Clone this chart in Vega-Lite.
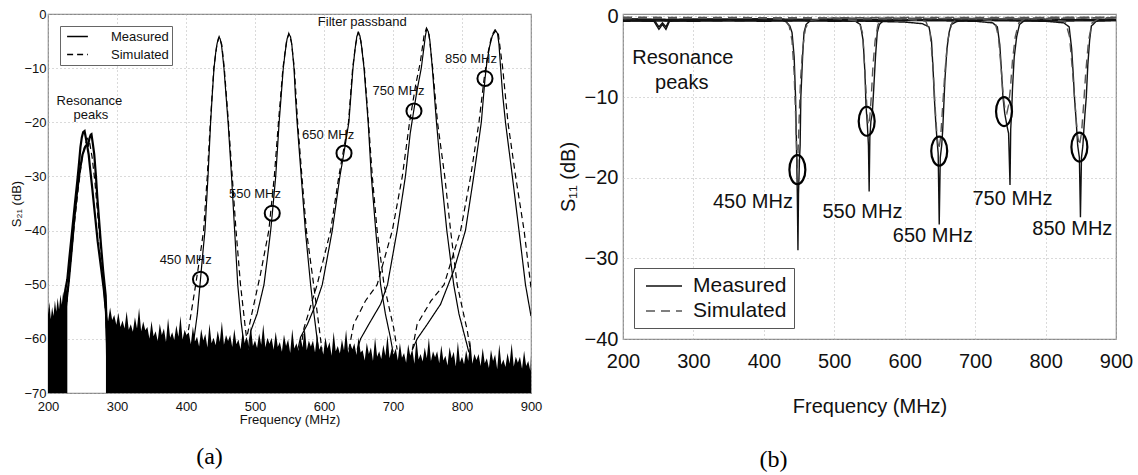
{
"$schema": "https://vega.github.io/schema/vega-lite/v6.json",
"background": "white",
"padding": {"left": 10, "top": 5, "right": 0, "bottom": 0},
"spacing": 14,
"config": {
  "font": "Liberation Sans",
  "view": {"stroke": "#8a8a8a", "strokeWidth": 1.2},
  "axis": {"domain": false, "ticks": false, "grid": true, "gridColor": "#b5b5b5", "gridDash": [1, 3], "labelColor": "#111", "titleColor": "#111", "labelFlush": false, "labelOverlap": false, "titleFontWeight": "normal"},
  "title": {"font": "Liberation Serif", "fontWeight": "normal", "fontSize": 24, "color": "#000"}
},
"datasets": {
  "left_noise": [
    {"seg":"a","f":200,"db":-55.5},{"seg":"a","f":202,"db":-53.2},{"seg":"a","f":204,"db":-56.4},{"seg":"a","f":206,"db":-54.1},{"seg":"a","f":208,"db":-55.8},{"seg":"a","f":210,"db":-52.9},{"seg":"a","f":212,"db":-55.0},{"seg":"a","f":214,"db":-52.4},{"seg":"a","f":216,"db":-54.6},{"seg":"a","f":218,"db":-51.8},{"seg":"a","f":220,"db":-53.7},{"seg":"a","f":222,"db":-51.2},{"seg":"a","f":224,"db":-52.8},{"seg":"a","f":226,"db":-50.3},{"seg":"a","f":228,"db":-51.5},
    {"seg":"b","f":284,"db":-55.0},{"seg":"b","f":287,"db":-56.8},{"seg":"b","f":290,"db":-54.2},{"seg":"b","f":293,"db":-56.5},{"seg":"b","f":296,"db":-55.6},{"seg":"b","f":299,"db":-57.4},{"seg":"b","f":302,"db":-55.2},{"seg":"b","f":305,"db":-57.8},{"seg":"b","f":308,"db":-56.6},{"seg":"b","f":311,"db":-58.1},{"seg":"b","f":314,"db":-54.9},{"seg":"b","f":317,"db":-58.3},{"seg":"b","f":320,"db":-57.3},{"seg":"b","f":323,"db":-58.7},{"seg":"b","f":326,"db":-56.0},{"seg":"b","f":329,"db":-58.1},{"seg":"b","f":332,"db":-54.3},{"seg":"b","f":335,"db":-58.6},{"seg":"b","f":338,"db":-56.8},{"seg":"b","f":341,"db":-58.4},{"seg":"b","f":344,"db":-57.8},{"seg":"b","f":347,"db":-60.0},{"seg":"b","f":350,"db":-56.7},{"seg":"b","f":353,"db":-59.5},{"seg":"b","f":356,"db":-58.6},{"seg":"b","f":359,"db":-60.4},{"seg":"b","f":362,"db":-57.2},{"seg":"b","f":365,"db":-59.3},{"seg":"b","f":368,"db":-58.1},{"seg":"b","f":371,"db":-60.6},{"seg":"b","f":374,"db":-56.2},{"seg":"b","f":377,"db":-59.8},{"seg":"b","f":380,"db":-58.8},{"seg":"b","f":383,"db":-60.2},{"seg":"b","f":386,"db":-57.5},{"seg":"b","f":389,"db":-59.6},{"seg":"b","f":392,"db":-55.8},{"seg":"b","f":395,"db":-60.1},{"seg":"b","f":398,"db":-58.3},{"seg":"b","f":401,"db":-59.4},{"seg":"b","f":404,"db":-58.8},{"seg":"b","f":407,"db":-61.0},{"seg":"b","f":410,"db":-57.7},{"seg":"b","f":413,"db":-60.5},{"seg":"b","f":416,"db":-59.6},{"seg":"b","f":419,"db":-61.4},{"seg":"b","f":422,"db":-58.2},{"seg":"b","f":425,"db":-60.3},{"seg":"b","f":428,"db":-59.1},{"seg":"b","f":431,"db":-61.6},{"seg":"b","f":434,"db":-57.2},{"seg":"b","f":437,"db":-60.8},{"seg":"b","f":440,"db":-59.8},{"seg":"b","f":443,"db":-61.2},{"seg":"b","f":446,"db":-58.5},{"seg":"b","f":449,"db":-60.6},{"seg":"b","f":452,"db":-56.8},{"seg":"b","f":455,"db":-61.1},{"seg":"b","f":458,"db":-59.3},{"seg":"b","f":461,"db":-60.4},{"seg":"b","f":464,"db":-59.3},{"seg":"b","f":467,"db":-61.5},{"seg":"b","f":470,"db":-58.2},{"seg":"b","f":473,"db":-61.0},{"seg":"b","f":476,"db":-60.1},{"seg":"b","f":479,"db":-61.9},{"seg":"b","f":482,"db":-58.7},{"seg":"b","f":485,"db":-60.8},{"seg":"b","f":488,"db":-59.6},{"seg":"b","f":491,"db":-62.1},{"seg":"b","f":494,"db":-57.7},{"seg":"b","f":497,"db":-61.3},{"seg":"b","f":500,"db":-60.3},{"seg":"b","f":503,"db":-61.7},{"seg":"b","f":506,"db":-59.0},{"seg":"b","f":509,"db":-61.1},{"seg":"b","f":512,"db":-57.3},{"seg":"b","f":515,"db":-61.6},{"seg":"b","f":518,"db":-59.8},{"seg":"b","f":521,"db":-60.9},{"seg":"b","f":524,"db":-59.8},{"seg":"b","f":527,"db":-62.0},{"seg":"b","f":530,"db":-58.7},{"seg":"b","f":533,"db":-61.5},{"seg":"b","f":536,"db":-60.6},{"seg":"b","f":539,"db":-62.4},{"seg":"b","f":542,"db":-59.2},{"seg":"b","f":545,"db":-61.3},{"seg":"b","f":548,"db":-60.1},{"seg":"b","f":551,"db":-62.6},{"seg":"b","f":554,"db":-58.2},{"seg":"b","f":557,"db":-61.8},{"seg":"b","f":560,"db":-60.8},{"seg":"b","f":563,"db":-62.2},{"seg":"b","f":566,"db":-59.6},{"seg":"b","f":569,"db":-61.6},{"seg":"b","f":572,"db":-57.8},{"seg":"b","f":575,"db":-62.1},{"seg":"b","f":578,"db":-60.3},{"seg":"b","f":581,"db":-61.4},{"seg":"b","f":584,"db":-60.3},{"seg":"b","f":587,"db":-62.5},{"seg":"b","f":590,"db":-59.2},{"seg":"b","f":593,"db":-62.0},{"seg":"b","f":596,"db":-61.1},{"seg":"b","f":599,"db":-62.9},{"seg":"b","f":602,"db":-59.7},{"seg":"b","f":605,"db":-61.8},{"seg":"b","f":608,"db":-60.6},{"seg":"b","f":611,"db":-63.1},{"seg":"b","f":614,"db":-58.7},{"seg":"b","f":617,"db":-62.3},{"seg":"b","f":620,"db":-61.3},{"seg":"b","f":623,"db":-62.7},{"seg":"b","f":626,"db":-60.1},{"seg":"b","f":629,"db":-62.1},{"seg":"b","f":632,"db":-58.3},{"seg":"b","f":635,"db":-62.6},{"seg":"b","f":638,"db":-60.8},{"seg":"b","f":641,"db":-61.9},{"seg":"b","f":644,"db":-60.8},{"seg":"b","f":647,"db":-63.0},{"seg":"b","f":650,"db":-59.7},{"seg":"b","f":653,"db":-62.5},{"seg":"b","f":656,"db":-62.1},{"seg":"b","f":659,"db":-64.0},{"seg":"b","f":662,"db":-60.7},{"seg":"b","f":665,"db":-62.8},{"seg":"b","f":668,"db":-61.6},{"seg":"b","f":671,"db":-64.1},{"seg":"b","f":674,"db":-59.7},{"seg":"b","f":677,"db":-63.3},{"seg":"b","f":680,"db":-62.3},{"seg":"b","f":683,"db":-63.7},{"seg":"b","f":686,"db":-61.1},{"seg":"b","f":689,"db":-63.1},{"seg":"b","f":692,"db":-59.3},{"seg":"b","f":695,"db":-63.6},{"seg":"b","f":698,"db":-61.8},{"seg":"b","f":701,"db":-62.9},{"seg":"b","f":704,"db":-61.8},{"seg":"b","f":707,"db":-64.0},{"seg":"b","f":710,"db":-60.7},{"seg":"b","f":713,"db":-63.5},{"seg":"b","f":716,"db":-62.6},{"seg":"b","f":719,"db":-64.4},{"seg":"b","f":722,"db":-61.0},{"seg":"b","f":725,"db":-63.1},{"seg":"b","f":728,"db":-61.9},{"seg":"b","f":731,"db":-64.6},{"seg":"b","f":734,"db":-60.0},{"seg":"b","f":737,"db":-63.8},{"seg":"b","f":740,"db":-62.8},{"seg":"b","f":743,"db":-64.2},{"seg":"b","f":746,"db":-61.6},{"seg":"b","f":749,"db":-63.6},{"seg":"b","f":752,"db":-59.8},{"seg":"b","f":755,"db":-64.1},{"seg":"b","f":758,"db":-62.3},{"seg":"b","f":761,"db":-63.4},{"seg":"b","f":764,"db":-62.3},{"seg":"b","f":767,"db":-64.5},{"seg":"b","f":770,"db":-61.2},{"seg":"b","f":773,"db":-64.0},{"seg":"b","f":776,"db":-63.1},{"seg":"b","f":779,"db":-64.9},{"seg":"b","f":782,"db":-61.5},{"seg":"b","f":785,"db":-63.6},{"seg":"b","f":788,"db":-62.4},{"seg":"b","f":791,"db":-65.1},{"seg":"b","f":794,"db":-60.5},{"seg":"b","f":797,"db":-64.3},{"seg":"b","f":800,"db":-63.3},{"seg":"b","f":803,"db":-64.7},{"seg":"b","f":806,"db":-62.1},{"seg":"b","f":809,"db":-64.1},{"seg":"b","f":812,"db":-60.3},{"seg":"b","f":815,"db":-64.6},{"seg":"b","f":818,"db":-62.8},{"seg":"b","f":821,"db":-63.9},{"seg":"b","f":824,"db":-62.8},{"seg":"b","f":827,"db":-65.0},{"seg":"b","f":830,"db":-61.7},{"seg":"b","f":833,"db":-64.5},{"seg":"b","f":836,"db":-63.6},{"seg":"b","f":839,"db":-65.4},{"seg":"b","f":842,"db":-62.0},{"seg":"b","f":845,"db":-64.1},{"seg":"b","f":848,"db":-62.9},{"seg":"b","f":851,"db":-65.6},{"seg":"b","f":854,"db":-61.0},{"seg":"b","f":857,"db":-64.8},{"seg":"b","f":860,"db":-63.8},{"seg":"b","f":863,"db":-65.2},{"seg":"b","f":866,"db":-62.6},{"seg":"b","f":869,"db":-64.6},{"seg":"b","f":872,"db":-60.8},{"seg":"b","f":875,"db":-65.1},{"seg":"b","f":878,"db":-63.3},{"seg":"b","f":881,"db":-64.4},{"seg":"b","f":884,"db":-63.3},{"seg":"b","f":887,"db":-65.5},{"seg":"b","f":890,"db":-62.2},{"seg":"b","f":893,"db":-65.0},{"seg":"b","f":896,"db":-64.1},{"seg":"b","f":899,"db":-65.9},{"seg":"b","f":900,"db":-63.0}
  ],
  "left_lines": [
    {"s":"M450","t":"Measured","f":405,"db":-62},{"s":"M450","t":"Measured","f":411.6,"db":-60},{"s":"M450","t":"Measured","f":416.4,"db":-55.4},{"s":"M450","t":"Measured","f":421,"db":-49},{"s":"M450","t":"Measured","f":424.5,"db":-44},{"s":"M450","t":"Measured","f":427.5,"db":-40},{"s":"M450","t":"Measured","f":431.9,"db":-30},{"s":"M450","t":"Measured","f":435.7,"db":-20},{"s":"M450","t":"Measured","f":438,"db":-15},{"s":"M450","t":"Measured","f":440.6,"db":-10},{"s":"M450","t":"Measured","f":443,"db":-7.2},{"s":"M450","t":"Measured","f":445,"db":-5.5},{"s":"M450","t":"Measured","f":447,"db":-4.5},{"s":"M450","t":"Measured","f":448,"db":-4.3},{"s":"M450","t":"Measured","f":449.5,"db":-4.6},{"s":"M450","t":"Measured","f":451.5,"db":-5.8},{"s":"M450","t":"Measured","f":453,"db":-7.5},{"s":"M450","t":"Measured","f":455,"db":-10},{"s":"M450","t":"Measured","f":458,"db":-15},{"s":"M450","t":"Measured","f":461,"db":-20},{"s":"M450","t":"Measured","f":466,"db":-30},{"s":"M450","t":"Measured","f":470.5,"db":-40},{"s":"M450","t":"Measured","f":475,"db":-50},{"s":"M450","t":"Measured","f":480,"db":-57},{"s":"M450","t":"Measured","f":484,"db":-61},{"s":"M450","t":"Measured","f":486,"db":-63},
    {"s":"S450","t":"Simulated","f":398,"db":-62},{"s":"S450","t":"Simulated","f":404,"db":-58},{"s":"S450","t":"Simulated","f":414,"db":-50},{"s":"S450","t":"Simulated","f":420,"db":-45},{"s":"S450","t":"Simulated","f":425.5,"db":-40},{"s":"S450","t":"Simulated","f":430.8,"db":-30},{"s":"S450","t":"Simulated","f":435.3,"db":-20},{"s":"S450","t":"Simulated","f":440.3,"db":-10},{"s":"S450","t":"Simulated","f":444.8,"db":-5.6},{"s":"S450","t":"Simulated","f":448,"db":-4.2},{"s":"S450","t":"Simulated","f":451.8,"db":-5.6},{"s":"S450","t":"Simulated","f":455.5,"db":-10},{"s":"S450","t":"Simulated","f":461.5,"db":-20},{"s":"S450","t":"Simulated","f":467,"db":-30},{"s":"S450","t":"Simulated","f":472.5,"db":-40},{"s":"S450","t":"Simulated","f":479,"db":-50},{"s":"S450","t":"Simulated","f":486,"db":-58},{"s":"S450","t":"Simulated","f":490,"db":-62},
    {"s":"M550","t":"Measured","f":490,"db":-62},{"s":"M550","t":"Measured","f":494,"db":-58.5},{"s":"M550","t":"Measured","f":503,"db":-55.4},{"s":"M550","t":"Measured","f":513,"db":-50},{"s":"M550","t":"Measured","f":518,"db":-45},{"s":"M550","t":"Measured","f":522.7,"db":-40},{"s":"M550","t":"Measured","f":525,"db":-37},{"s":"M550","t":"Measured","f":530,"db":-30},{"s":"M550","t":"Measured","f":535,"db":-20},{"s":"M550","t":"Measured","f":538,"db":-15},{"s":"M550","t":"Measured","f":541,"db":-10},{"s":"M550","t":"Measured","f":544,"db":-6.8},{"s":"M550","t":"Measured","f":546.5,"db":-4.6},{"s":"M550","t":"Measured","f":549,"db":-3.7},{"s":"M550","t":"Measured","f":551.5,"db":-4.2},{"s":"M550","t":"Measured","f":553.5,"db":-5.8},{"s":"M550","t":"Measured","f":556.5,"db":-10},{"s":"M550","t":"Measured","f":558.5,"db":-15},{"s":"M550","t":"Measured","f":561,"db":-20},{"s":"M550","t":"Measured","f":567,"db":-30},{"s":"M550","t":"Measured","f":573,"db":-40},{"s":"M550","t":"Measured","f":580.6,"db":-50},{"s":"M550","t":"Measured","f":585.5,"db":-55.4},{"s":"M550","t":"Measured","f":590,"db":-60},{"s":"M550","t":"Measured","f":593,"db":-63},
    {"s":"S550","t":"Simulated","f":486,"db":-61},{"s":"S550","t":"Simulated","f":496,"db":-55},{"s":"S550","t":"Simulated","f":508,"db":-48},{"s":"S550","t":"Simulated","f":520,"db":-40},{"s":"S550","t":"Simulated","f":528,"db":-30},{"s":"S550","t":"Simulated","f":534,"db":-20},{"s":"S550","t":"Simulated","f":540.5,"db":-10},{"s":"S550","t":"Simulated","f":545.5,"db":-5.2},{"s":"S550","t":"Simulated","f":549,"db":-3.6},{"s":"S550","t":"Simulated","f":552.8,"db":-5.2},{"s":"S550","t":"Simulated","f":557,"db":-10},{"s":"S550","t":"Simulated","f":561.8,"db":-20},{"s":"S550","t":"Simulated","f":568,"db":-30},{"s":"S550","t":"Simulated","f":574.5,"db":-40},{"s":"S550","t":"Simulated","f":585,"db":-50},{"s":"S550","t":"Simulated","f":593,"db":-58},{"s":"S550","t":"Simulated","f":597,"db":-62},
    {"s":"M650","t":"Measured","f":562,"db":-62},{"s":"M650","t":"Measured","f":566,"db":-59.7},{"s":"M650","t":"Measured","f":576,"db":-57.3},{"s":"M650","t":"Measured","f":588,"db":-53.6},{"s":"M650","t":"Measured","f":597.5,"db":-50},{"s":"M650","t":"Measured","f":612,"db":-40},{"s":"M650","t":"Measured","f":623,"db":-30},{"s":"M650","t":"Measured","f":629,"db":-25.6},{"s":"M650","t":"Measured","f":636,"db":-20},{"s":"M650","t":"Measured","f":639,"db":-15},{"s":"M650","t":"Measured","f":642,"db":-10},{"s":"M650","t":"Measured","f":645,"db":-6.5},{"s":"M650","t":"Measured","f":647.5,"db":-4.2},{"s":"M650","t":"Measured","f":649.5,"db":-3.4},{"s":"M650","t":"Measured","f":652,"db":-4},{"s":"M650","t":"Measured","f":654.5,"db":-6},{"s":"M650","t":"Measured","f":658,"db":-10},{"s":"M650","t":"Measured","f":661,"db":-15},{"s":"M650","t":"Measured","f":664,"db":-20},{"s":"M650","t":"Measured","f":668.6,"db":-30},{"s":"M650","t":"Measured","f":675,"db":-40},{"s":"M650","t":"Measured","f":682,"db":-50},{"s":"M650","t":"Measured","f":689,"db":-55.4},{"s":"M650","t":"Measured","f":696.6,"db":-60},{"s":"M650","t":"Measured","f":700,"db":-62.5},
    {"s":"S650","t":"Simulated","f":566,"db":-62},{"s":"S650","t":"Simulated","f":571,"db":-58},{"s":"S650","t":"Simulated","f":590,"db":-50},{"s":"S650","t":"Simulated","f":609.6,"db":-40},{"s":"S650","t":"Simulated","f":621.5,"db":-30},{"s":"S650","t":"Simulated","f":635.5,"db":-20},{"s":"S650","t":"Simulated","f":641.5,"db":-10},{"s":"S650","t":"Simulated","f":646,"db":-5.5},{"s":"S650","t":"Simulated","f":650,"db":-3.3},{"s":"S650","t":"Simulated","f":653.5,"db":-5},{"s":"S650","t":"Simulated","f":658.5,"db":-10},{"s":"S650","t":"Simulated","f":664.5,"db":-20},{"s":"S650","t":"Simulated","f":670,"db":-30},{"s":"S650","t":"Simulated","f":677,"db":-40},{"s":"S650","t":"Simulated","f":687,"db":-50},{"s":"S650","t":"Simulated","f":701,"db":-58},{"s":"S650","t":"Simulated","f":706,"db":-62},
    {"s":"M750","t":"Measured","f":648,"db":-62},{"s":"M750","t":"Measured","f":653,"db":-60},{"s":"M750","t":"Measured","f":665,"db":-57.3},{"s":"M750","t":"Measured","f":682,"db":-53.6},{"s":"M750","t":"Measured","f":692,"db":-50},{"s":"M750","t":"Measured","f":706,"db":-40},{"s":"M750","t":"Measured","f":718,"db":-30},{"s":"M750","t":"Measured","f":725,"db":-22},{"s":"M750","t":"Measured","f":730,"db":-17.9},{"s":"M750","t":"Measured","f":735,"db":-14},{"s":"M750","t":"Measured","f":741,"db":-10},{"s":"M750","t":"Measured","f":744.5,"db":-6.5},{"s":"M750","t":"Measured","f":747,"db":-4},{"s":"M750","t":"Measured","f":748.8,"db":-2.8},{"s":"M750","t":"Measured","f":751,"db":-3.2},{"s":"M750","t":"Measured","f":753.5,"db":-5},{"s":"M750","t":"Measured","f":757,"db":-10},{"s":"M750","t":"Measured","f":760,"db":-15},{"s":"M750","t":"Measured","f":763,"db":-20},{"s":"M750","t":"Measured","f":770,"db":-30},{"s":"M750","t":"Measured","f":778,"db":-40},{"s":"M750","t":"Measured","f":788,"db":-50},{"s":"M750","t":"Measured","f":795.6,"db":-55.4},{"s":"M750","t":"Measured","f":805,"db":-60},{"s":"M750","t":"Measured","f":810,"db":-62.5},
    {"s":"S750","t":"Simulated","f":636,"db":-62},{"s":"S750","t":"Simulated","f":643,"db":-57.3},{"s":"S750","t":"Simulated","f":660,"db":-53},{"s":"S750","t":"Simulated","f":677,"db":-50},{"s":"S750","t":"Simulated","f":699,"db":-40},{"s":"S750","t":"Simulated","f":713.5,"db":-30},{"s":"S750","t":"Simulated","f":724,"db":-20},{"s":"S750","t":"Simulated","f":733,"db":-13},{"s":"S750","t":"Simulated","f":739.5,"db":-9},{"s":"S750","t":"Simulated","f":745,"db":-4},{"s":"S750","t":"Simulated","f":748.5,"db":-2.6},{"s":"S750","t":"Simulated","f":752,"db":-3.5},{"s":"S750","t":"Simulated","f":757.5,"db":-10},{"s":"S750","t":"Simulated","f":764.5,"db":-20},{"s":"S750","t":"Simulated","f":775,"db":-30},{"s":"S750","t":"Simulated","f":783.5,"db":-40},{"s":"S750","t":"Simulated","f":793,"db":-50},{"s":"S750","t":"Simulated","f":807.7,"db":-58.5},{"s":"S750","t":"Simulated","f":812,"db":-62},
    {"s":"M850","t":"Measured","f":728,"db":-62},{"s":"M850","t":"Measured","f":735,"db":-60},{"s":"M850","t":"Measured","f":749.7,"db":-57.3},{"s":"M850","t":"Measured","f":769,"db":-53.6},{"s":"M850","t":"Measured","f":788,"db":-47.4},{"s":"M850","t":"Measured","f":805,"db":-40},{"s":"M850","t":"Measured","f":817,"db":-30},{"s":"M850","t":"Measured","f":828,"db":-20},{"s":"M850","t":"Measured","f":833.3,"db":-12},{"s":"M850","t":"Measured","f":836,"db":-9},{"s":"M850","t":"Measured","f":840,"db":-6},{"s":"M850","t":"Measured","f":844,"db":-4},{"s":"M850","t":"Measured","f":848.8,"db":-3.1},{"s":"M850","t":"Measured","f":851.5,"db":-3.6},{"s":"M850","t":"Measured","f":853.5,"db":-5.5},{"s":"M850","t":"Measured","f":856,"db":-10},{"s":"M850","t":"Measured","f":859,"db":-15},{"s":"M850","t":"Measured","f":863,"db":-20},{"s":"M850","t":"Measured","f":873,"db":-30},{"s":"M850","t":"Measured","f":882.6,"db":-40},{"s":"M850","t":"Measured","f":892,"db":-50},{"s":"M850","t":"Measured","f":900,"db":-55.8},
    {"s":"S850","t":"Simulated","f":728,"db":-62},{"s":"S850","t":"Simulated","f":735,"db":-57.3},{"s":"S850","t":"Simulated","f":755,"db":-53},{"s":"S850","t":"Simulated","f":774,"db":-50},{"s":"S850","t":"Simulated","f":798,"db":-40},{"s":"S850","t":"Simulated","f":812.5,"db":-30},{"s":"S850","t":"Simulated","f":824.6,"db":-20},{"s":"S850","t":"Simulated","f":832,"db":-12},{"s":"S850","t":"Simulated","f":838,"db":-7},{"s":"S850","t":"Simulated","f":843,"db":-4},{"s":"S850","t":"Simulated","f":848,"db":-2.9},{"s":"S850","t":"Simulated","f":852.5,"db":-3.5},{"s":"S850","t":"Simulated","f":856,"db":-7},{"s":"S850","t":"Simulated","f":859,"db":-10},{"s":"S850","t":"Simulated","f":866.6,"db":-20},{"s":"S850","t":"Simulated","f":877.7,"db":-30},{"s":"S850","t":"Simulated","f":890,"db":-40},{"s":"S850","t":"Simulated","f":899.5,"db":-50},{"s":"S850","t":"Simulated","f":900,"db":-50.5}
  ],
  "left_res": [
    {"s":"R1","t":"M","f":223,"db":-54},{"s":"R1","t":"M","f":225,"db":-51},{"s":"R1","t":"M","f":228,"db":-49},{"s":"R1","t":"M","f":231,"db":-45},{"s":"R1","t":"M","f":235,"db":-40},{"s":"R1","t":"M","f":239,"db":-35},{"s":"R1","t":"M","f":242.5,"db":-30.8},{"s":"R1","t":"M","f":245,"db":-27.5},{"s":"R1","t":"M","f":247,"db":-24.6},{"s":"R1","t":"M","f":249,"db":-22.8},{"s":"R1","t":"M","f":251,"db":-21.8},{"s":"R1","t":"M","f":253,"db":-21.6},{"s":"R1","t":"M","f":255,"db":-23},{"s":"R1","t":"M","f":257,"db":-24.5},{"s":"R1","t":"M","f":259,"db":-26},{"s":"R1","t":"M","f":261,"db":-28.5},{"s":"R1","t":"M","f":264,"db":-32},{"s":"R1","t":"M","f":268,"db":-37},{"s":"R1","t":"M","f":272,"db":-42},{"s":"R1","t":"M","f":277,"db":-47},{"s":"R1","t":"M","f":281,"db":-51},{"s":"R1","t":"M","f":284,"db":-55},{"s":"R1","t":"M","f":286,"db":-62},{"s":"R1","t":"M","f":287.5,"db":-70},
    {"s":"R2","t":"M","f":226,"db":-54},{"s":"R2","t":"M","f":230,"db":-49.5},{"s":"R2","t":"M","f":234,"db":-44},{"s":"R2","t":"M","f":238,"db":-38},{"s":"R2","t":"M","f":242,"db":-33},{"s":"R2","t":"M","f":246,"db":-29},{"s":"R2","t":"M","f":250,"db":-26},{"s":"R2","t":"M","f":254,"db":-24.5},{"s":"R2","t":"M","f":256,"db":-24.2},{"s":"R2","t":"M","f":258,"db":-24.3},{"s":"R2","t":"M","f":260,"db":-23},{"s":"R2","t":"M","f":262,"db":-22.3},{"s":"R2","t":"M","f":263,"db":-22.2},{"s":"R2","t":"M","f":265,"db":-24},{"s":"R2","t":"M","f":267,"db":-25.9},{"s":"R2","t":"M","f":269.5,"db":-30},{"s":"R2","t":"M","f":271.5,"db":-33.9},{"s":"R2","t":"M","f":274,"db":-38},{"s":"R2","t":"M","f":277,"db":-43},{"s":"R2","t":"M","f":280,"db":-47.5},{"s":"R2","t":"M","f":283.6,"db":-52},{"s":"R2","t":"M","f":285,"db":-58},{"s":"R2","t":"M","f":286.5,"db":-70},
    {"s":"RS","t":"S","f":226,"db":-55},{"s":"RS","t":"S","f":232,"db":-47},{"s":"RS","t":"S","f":238,"db":-39},{"s":"RS","t":"S","f":244,"db":-32},{"s":"RS","t":"S","f":249,"db":-27},{"s":"RS","t":"S","f":253,"db":-24.5},{"s":"RS","t":"S","f":257,"db":-23},{"s":"RS","t":"S","f":260,"db":-23.5},{"s":"RS","t":"S","f":264,"db":-26.5},{"s":"RS","t":"S","f":268,"db":-31},{"s":"RS","t":"S","f":272,"db":-37},{"s":"RS","t":"S","f":276,"db":-43},{"s":"RS","t":"S","f":280,"db":-49},{"s":"RS","t":"S","f":284,"db":-56},{"s":"RS","t":"S","f":286,"db":-62}
  ],
  "left_text": [
    {"f":260,"db":-16,"label":"Resonance"},{"f":262,"db":-18.6,"label":"peaks"},{"f":399.5,"db":-45.4,"label":"450 MHz"},{"f":500,"db":-33.3,"label":"550 MHz"},{"f":606,"db":-22.3,"label":"650 MHz"},{"f":708,"db":-14.3,"label":"750 MHz"},{"f":813,"db":-8.3,"label":"850 MHz"},{"f":655.5,"db":-1.5,"label":"Filter passband"}
  ],
  "left_circles": [
    {"f":421,"db":-49},{"f":525,"db":-36.8},{"f":629,"db":-25.7},{"f":730.4,"db":-17.9},{"f":833.3,"db":-11.9}
  ],
  "right_lines": [
    {"s":"M450","t":"Measured","f":200,"db":-0.5},{"s":"M450","t":"Measured","f":244,"db":-0.6},{"s":"M450","t":"Measured","f":251,"db":-1.6},{"s":"M450","t":"Measured","f":256,"db":-1.0},{"s":"M450","t":"Measured","f":261,"db":-1.6},{"s":"M450","t":"Measured","f":266,"db":-0.6},{"s":"M450","t":"Measured","f":300,"db":-0.5},{"s":"M450","t":"Measured","f":350,"db":-0.4},{"s":"M450","t":"Measured","f":400,"db":-0.3},{"s":"M450","t":"Measured","f":425,"db":-0.4},{"s":"M450","t":"Measured","f":432,"db":-0.7},{"s":"M450","t":"Measured","f":437,"db":-1.2},{"s":"M450","t":"Measured","f":440,"db":-2},{"s":"M450","t":"Measured","f":443,"db":-5},{"s":"M450","t":"Measured","f":445,"db":-10},{"s":"M450","t":"Measured","f":446.5,"db":-17},{"s":"M450","t":"Measured","f":447.5,"db":-22},{"s":"M450","t":"Measured","f":448.4,"db":-29},{"s":"M450","t":"Measured","f":449.2,"db":-22},{"s":"M450","t":"Measured","f":450.5,"db":-18},{"s":"M450","t":"Measured","f":451.5,"db":-16},{"s":"M450","t":"Measured","f":452.5,"db":-10},{"s":"M450","t":"Measured","f":455,"db":-5},{"s":"M450","t":"Measured","f":457,"db":-2},{"s":"M450","t":"Measured","f":460,"db":-1},{"s":"M450","t":"Measured","f":466,"db":-0.5},{"s":"M450","t":"Measured","f":500,"db":-0.3},{"s":"M450","t":"Measured","f":600,"db":-0.4},{"s":"M450","t":"Measured","f":700,"db":-0.5},{"s":"M450","t":"Measured","f":800,"db":-0.4},{"s":"M450","t":"Measured","f":900,"db":-0.4},
    {"s":"M550","t":"Measured","f":200,"db":-0.3},{"s":"M550","t":"Measured","f":244,"db":-0.4},{"s":"M550","t":"Measured","f":251,"db":-1.3},{"s":"M550","t":"Measured","f":256,"db":-0.8},{"s":"M550","t":"Measured","f":261,"db":-1.3},{"s":"M550","t":"Measured","f":266,"db":-0.4},{"s":"M550","t":"Measured","f":300,"db":-0.3},{"s":"M550","t":"Measured","f":400,"db":-0.4},{"s":"M550","t":"Measured","f":500,"db":-0.5},{"s":"M550","t":"Measured","f":530,"db":-0.6},{"s":"M550","t":"Measured","f":537,"db":-1},{"s":"M550","t":"Measured","f":541,"db":-3},{"s":"M550","t":"Measured","f":543.5,"db":-7},{"s":"M550","t":"Measured","f":545,"db":-11},{"s":"M550","t":"Measured","f":547,"db":-13.5},{"s":"M550","t":"Measured","f":548.5,"db":-16},{"s":"M550","t":"Measured","f":549.5,"db":-21.7},{"s":"M550","t":"Measured","f":550.5,"db":-15},{"s":"M550","t":"Measured","f":552,"db":-13},{"s":"M550","t":"Measured","f":554,"db":-12},{"s":"M550","t":"Measured","f":556,"db":-9},{"s":"M550","t":"Measured","f":558.5,"db":-5},{"s":"M550","t":"Measured","f":561,"db":-2},{"s":"M550","t":"Measured","f":564,"db":-1},{"s":"M550","t":"Measured","f":570,"db":-0.5},{"s":"M550","t":"Measured","f":600,"db":-0.4},{"s":"M550","t":"Measured","f":700,"db":-0.4},{"s":"M550","t":"Measured","f":800,"db":-0.5},{"s":"M550","t":"Measured","f":900,"db":-0.4},
    {"s":"M650","t":"Measured","f":200,"db":-0.6},{"s":"M650","t":"Measured","f":300,"db":-0.5},{"s":"M650","t":"Measured","f":400,"db":-0.6},{"s":"M650","t":"Measured","f":500,"db":-0.5},{"s":"M650","t":"Measured","f":600,"db":-0.7},{"s":"M650","t":"Measured","f":625,"db":-0.9},{"s":"M650","t":"Measured","f":634.5,"db":-1.3},{"s":"M650","t":"Measured","f":638,"db":-3},{"s":"M650","t":"Measured","f":640.5,"db":-7},{"s":"M650","t":"Measured","f":642,"db":-10},{"s":"M650","t":"Measured","f":644,"db":-13},{"s":"M650","t":"Measured","f":645.6,"db":-15},{"s":"M650","t":"Measured","f":647.5,"db":-17},{"s":"M650","t":"Measured","f":649,"db":-25.8},{"s":"M650","t":"Measured","f":650.5,"db":-17.5},{"s":"M650","t":"Measured","f":652.5,"db":-16},{"s":"M650","t":"Measured","f":654,"db":-14},{"s":"M650","t":"Measured","f":655.5,"db":-11},{"s":"M650","t":"Measured","f":657,"db":-8},{"s":"M650","t":"Measured","f":660,"db":-4},{"s":"M650","t":"Measured","f":663,"db":-2},{"s":"M650","t":"Measured","f":666,"db":-1},{"s":"M650","t":"Measured","f":675,"db":-0.6},{"s":"M650","t":"Measured","f":700,"db":-0.5},{"s":"M650","t":"Measured","f":800,"db":-0.6},{"s":"M650","t":"Measured","f":900,"db":-0.5},
    {"s":"M750","t":"Measured","f":200,"db":-0.3},{"s":"M750","t":"Measured","f":300,"db":-0.4},{"s":"M750","t":"Measured","f":400,"db":-0.3},{"s":"M750","t":"Measured","f":500,"db":-0.4},{"s":"M750","t":"Measured","f":600,"db":-0.5},{"s":"M750","t":"Measured","f":700,"db":-0.6},{"s":"M750","t":"Measured","f":725,"db":-0.8},{"s":"M750","t":"Measured","f":731.5,"db":-1.3},{"s":"M750","t":"Measured","f":735,"db":-3.5},{"s":"M750","t":"Measured","f":737.5,"db":-7},{"s":"M750","t":"Measured","f":739.5,"db":-10},{"s":"M750","t":"Measured","f":742,"db":-12},{"s":"M750","t":"Measured","f":745,"db":-13.5},{"s":"M750","t":"Measured","f":747.5,"db":-14.5},{"s":"M750","t":"Measured","f":749.5,"db":-20.9},{"s":"M750","t":"Measured","f":750.5,"db":-14},{"s":"M750","t":"Measured","f":752,"db":-11.5},{"s":"M750","t":"Measured","f":753,"db":-9},{"s":"M750","t":"Measured","f":755.5,"db":-5},{"s":"M750","t":"Measured","f":759,"db":-2.5},{"s":"M750","t":"Measured","f":763,"db":-1},{"s":"M750","t":"Measured","f":770,"db":-0.5},{"s":"M750","t":"Measured","f":800,"db":-0.4},{"s":"M750","t":"Measured","f":900,"db":-0.4},
    {"s":"M850","t":"Measured","f":200,"db":-0.5},{"s":"M850","t":"Measured","f":300,"db":-0.6},{"s":"M850","t":"Measured","f":400,"db":-0.5},{"s":"M850","t":"Measured","f":500,"db":-0.6},{"s":"M850","t":"Measured","f":600,"db":-0.5},{"s":"M850","t":"Measured","f":700,"db":-0.4},{"s":"M850","t":"Measured","f":800,"db":-0.6},{"s":"M850","t":"Measured","f":826,"db":-0.8},{"s":"M850","t":"Measured","f":833.5,"db":-1.3},{"s":"M850","t":"Measured","f":837,"db":-4},{"s":"M850","t":"Measured","f":839.5,"db":-7.5},{"s":"M850","t":"Measured","f":841,"db":-10},{"s":"M850","t":"Measured","f":843.5,"db":-13},{"s":"M850","t":"Measured","f":845.6,"db":-16},{"s":"M850","t":"Measured","f":848,"db":-17.5},{"s":"M850","t":"Measured","f":849.5,"db":-24.9},{"s":"M850","t":"Measured","f":851,"db":-17.5},{"s":"M850","t":"Measured","f":853,"db":-16},{"s":"M850","t":"Measured","f":854.4,"db":-14},{"s":"M850","t":"Measured","f":856,"db":-12},{"s":"M850","t":"Measured","f":857.8,"db":-10},{"s":"M850","t":"Measured","f":860,"db":-6},{"s":"M850","t":"Measured","f":862.5,"db":-3},{"s":"M850","t":"Measured","f":865,"db":-1.2},{"s":"M850","t":"Measured","f":872,"db":-0.6},{"s":"M850","t":"Measured","f":900,"db":-0.5},
    {"s":"S450","t":"Simulated","f":200,"db":-0.1},{"s":"S450","t":"Simulated","f":400,"db":-0.15},{"s":"S450","t":"Simulated","f":430,"db":-0.4},{"s":"S450","t":"Simulated","f":436,"db":-1.2},{"s":"S450","t":"Simulated","f":440,"db":-3},{"s":"S450","t":"Simulated","f":443,"db":-7},{"s":"S450","t":"Simulated","f":445,"db":-12},{"s":"S450","t":"Simulated","f":446.8,"db":-17},{"s":"S450","t":"Simulated","f":447.5,"db":-19},{"s":"S450","t":"Simulated","f":448.5,"db":-17},{"s":"S450","t":"Simulated","f":450,"db":-13},{"s":"S450","t":"Simulated","f":452,"db":-8},{"s":"S450","t":"Simulated","f":455,"db":-4},{"s":"S450","t":"Simulated","f":459,"db":-1.5},{"s":"S450","t":"Simulated","f":465,"db":-0.5},{"s":"S450","t":"Simulated","f":500,"db":-0.15},{"s":"S450","t":"Simulated","f":900,"db":-0.1},
    {"s":"S550","t":"Simulated","f":200,"db":-0.15},{"s":"S550","t":"Simulated","f":500,"db":-0.2},{"s":"S550","t":"Simulated","f":535,"db":-0.6},{"s":"S550","t":"Simulated","f":540,"db":-2},{"s":"S550","t":"Simulated","f":543,"db":-6},{"s":"S550","t":"Simulated","f":545.5,"db":-10},{"s":"S550","t":"Simulated","f":547,"db":-12.5},{"s":"S550","t":"Simulated","f":548.5,"db":-13.5},{"s":"S550","t":"Simulated","f":550,"db":-13},{"s":"S550","t":"Simulated","f":552.5,"db":-10},{"s":"S550","t":"Simulated","f":555,"db":-6},{"s":"S550","t":"Simulated","f":558,"db":-3},{"s":"S550","t":"Simulated","f":562,"db":-1},{"s":"S550","t":"Simulated","f":568,"db":-0.3},{"s":"S550","t":"Simulated","f":900,"db":-0.15},
    {"s":"S650","t":"Simulated","f":200,"db":-0.2},{"s":"S650","t":"Simulated","f":600,"db":-0.3},{"s":"S650","t":"Simulated","f":630,"db":-0.6},{"s":"S650","t":"Simulated","f":636,"db":-2},{"s":"S650","t":"Simulated","f":640,"db":-6},{"s":"S650","t":"Simulated","f":643,"db":-11},{"s":"S650","t":"Simulated","f":646,"db":-15},{"s":"S650","t":"Simulated","f":648.5,"db":-16.5},{"s":"S650","t":"Simulated","f":651,"db":-15},{"s":"S650","t":"Simulated","f":654,"db":-11},{"s":"S650","t":"Simulated","f":657,"db":-7},{"s":"S650","t":"Simulated","f":661,"db":-3},{"s":"S650","t":"Simulated","f":667,"db":-0.8},{"s":"S650","t":"Simulated","f":675,"db":-0.3},{"s":"S650","t":"Simulated","f":900,"db":-0.2},
    {"s":"S750","t":"Simulated","f":200,"db":-0.15},{"s":"S750","t":"Simulated","f":700,"db":-0.25},{"s":"S750","t":"Simulated","f":728,"db":-0.6},{"s":"S750","t":"Simulated","f":733,"db":-2.5},{"s":"S750","t":"Simulated","f":737,"db":-6.5},{"s":"S750","t":"Simulated","f":740,"db":-10},{"s":"S750","t":"Simulated","f":742.5,"db":-11.5},{"s":"S750","t":"Simulated","f":745,"db":-12},{"s":"S750","t":"Simulated","f":747.5,"db":-11},{"s":"S750","t":"Simulated","f":750,"db":-9},{"s":"S750","t":"Simulated","f":753,"db":-5.5},{"s":"S750","t":"Simulated","f":757,"db":-2.5},{"s":"S750","t":"Simulated","f":762,"db":-0.8},{"s":"S750","t":"Simulated","f":770,"db":-0.3},{"s":"S750","t":"Simulated","f":900,"db":-0.15},
    {"s":"S850","t":"Simulated","f":200,"db":-0.2},{"s":"S850","t":"Simulated","f":800,"db":-0.3},{"s":"S850","t":"Simulated","f":828,"db":-0.6},{"s":"S850","t":"Simulated","f":834,"db":-2.5},{"s":"S850","t":"Simulated","f":838,"db":-6.5},{"s":"S850","t":"Simulated","f":842,"db":-11},{"s":"S850","t":"Simulated","f":845,"db":-14.5},{"s":"S850","t":"Simulated","f":848,"db":-16},{"s":"S850","t":"Simulated","f":851,"db":-14.5},{"s":"S850","t":"Simulated","f":854,"db":-11},{"s":"S850","t":"Simulated","f":857,"db":-7},{"s":"S850","t":"Simulated","f":861,"db":-3},{"s":"S850","t":"Simulated","f":866,"db":-0.8},{"s":"S850","t":"Simulated","f":875,"db":-0.3},{"s":"S850","t":"Simulated","f":900,"db":-0.2}
  ],
  "right_text": [
    {"f":285,"db":-5.2,"label":"Resonance"},{"f":283.5,"db":-8.2,"label":"peaks"},{"f":384.5,"db":-23,"label":"450 MHz"},{"f":540,"db":-24.3,"label":"550 MHz"},{"f":640,"db":-27.2,"label":"650 MHz"},{"f":753,"db":-22.6,"label":"750 MHz"},{"f":838,"db":-26.4,"label":"850 MHz"}
  ],
  "right_circles": [
    {"f":447.6,"db":-19},{"f":546,"db":-13},{"f":649,"db":-16.7},{"f":741,"db":-11.8},{"f":848,"db":-16.2}
  ]
},
"hconcat": [
  {
    "width": 483,
    "height": 379,
    "title": {"text": "(a)", "orient": "bottom", "anchor": "middle", "dx": -80, "offset": 19, "font": "Liberation Serif", "fontSize": 24, "fontWeight": "normal"},
    "encoding": {
      "x": {"field": "f", "type": "quantitative", "title": "Frequency (MHz)", "scale": {"domain": [200, 900], "nice": false, "zero": false},
            "axis": {"values": [200, 300, 400, 500, 600, 700, 800, 900], "labelFontSize": 13, "titleFontSize": 13, "labelPadding": 7, "titlePadding": 0}},
      "y": {"field": "db", "type": "quantitative", "title": "S₂₁ (dB)", "scale": {"domain": [-70, 0], "nice": false, "zero": false},
            "axis": {"values": [0, -10, -20, -30, -40, -50, -60, -70], "labelFontSize": 13, "titleFontSize": 13, "labelPadding": 2, "titlePadding": 0}}
    },
    "layer": [
      {"data": {"name": "left_noise"}, "mark": {"type": "area", "color": "#000", "clip": true},
       "encoding": {"y2": {"datum": -70}, "detail": {"field": "seg"}}},
      {"data": {"name": "left_res"}, "transform": [{"filter": "datum.t == 'M'"}],
       "mark": {"type": "line", "color": "#000", "strokeWidth": 2.2, "clip": true},
       "encoding": {"detail": {"field": "s"}}},
      {"data": {"name": "left_res"}, "transform": [{"filter": "datum.t == 'S'"}],
       "mark": {"type": "line", "color": "#000", "strokeWidth": 1.2, "strokeDash": [6, 4], "clip": true},
       "encoding": {"detail": {"field": "s"}}},
      {"data": {"name": "left_lines"}, "mark": {"type": "line", "color": "#000", "strokeWidth": 1.2, "clip": true},
       "encoding": {
         "detail": {"field": "s"},
         "strokeDash": {"field": "t", "type": "nominal", "scale": {"domain": ["Measured", "Simulated"], "range": [[1, 0], [6, 4]]},
           "legend": {"title": null, "orient": "top-left", "offset": 12, "strokeColor": "#666", "fillColor": "white", "padding": 3, "labelFontSize": 13, "symbolType": "M -1.6 0 L 1.6 0", "symbolSize": 169, "symbolOffset": 7, "symbolStrokeWidth": 1.3, "symbolStrokeColor": "#000", "labelOffset": 26, "rowPadding": 3, "labelColor": "#111"}}
       }},
      {"data": {"name": "left_circles"}, "mark": {"type": "point", "shape": "circle", "size": 227, "filled": false, "stroke": "#000", "strokeWidth": 2, "opacity": 1}},
      {"data": {"name": "left_text"}, "mark": {"type": "text", "fontSize": 13, "align": "center", "baseline": "middle", "color": "#111"},
       "encoding": {"text": {"field": "label"}}}
    ]
  },
  {
    "width": 493,
    "height": 325,
    "title": {"text": "(b)", "orient": "bottom", "anchor": "middle", "dx": -96, "offset": 32, "font": "Liberation Serif", "fontSize": 24, "fontWeight": "normal"},
    "encoding": {
      "x": {"field": "f", "type": "quantitative", "title": "Frequency (MHz)", "scale": {"domain": [200, 900], "nice": false, "zero": false},
            "axis": {"values": [200, 300, 400, 500, 600, 700, 800, 900], "labelFontSize": 20, "titleFontSize": 20, "labelPadding": 12, "titlePadding": 25}},
      "y": {"field": "db", "type": "quantitative", "title": "S₁₁ (dB)", "scale": {"domain": [-40, 0.3], "nice": false, "zero": false},
            "axis": {"values": [0, -10, -20, -30, -40], "labelFontSize": 20, "titleFontSize": 20, "labelPadding": 5, "titlePadding": 6}}
    },
    "layer": [
      {"data": {"name": "right_lines"}, "mark": {"type": "line", "strokeWidth": 1.4, "clip": true},
       "encoding": {
         "detail": {"field": "s"},
         "color": {"field": "t", "type": "nominal", "scale": {"domain": ["Measured", "Simulated"], "range": ["#111", "#555"]},
           "legend": {"title": null, "orient": "bottom-left", "offset": 11, "strokeColor": "#555", "fillColor": "white", "padding": 7, "labelFontSize": 21, "symbolType": "M -1.8 0 L 1.8 0", "symbolSize": 400, "symbolOffset": 12, "symbolStrokeWidth": 1.6, "labelOffset": 18, "rowPadding": 4, "labelColor": "#111"}},
         "strokeDash": {"field": "t", "type": "nominal", "scale": {"domain": ["Measured", "Simulated"], "range": [[1, 0], [9, 6]]},
           "legend": {"title": null, "orient": "bottom-left", "offset": 11, "strokeColor": "#555", "fillColor": "white", "padding": 7, "labelFontSize": 21, "symbolType": "M -1.8 0 L 1.8 0", "symbolSize": 400, "symbolOffset": 12, "symbolStrokeWidth": 1.6, "labelOffset": 18, "rowPadding": 4, "labelColor": "#111"}}
       }},
      {"data": {"name": "right_circles"}, "mark": {"type": "point", "shape": "M -0.55 0 A 0.55 1 0 1 0 0.55 0 A 0.55 1 0 1 0 -0.55 0 Z", "size": 841, "filled": false, "stroke": "#000", "strokeWidth": 2.2, "opacity": 1}},
      {"data": {"name": "right_text"}, "mark": {"type": "text", "fontSize": 20, "align": "center", "baseline": "middle", "color": "#111"},
       "encoding": {"text": {"field": "label"}}}
    ]
  }
],
"resolve": {"scale": {"x": "independent", "y": "independent", "strokeDash": "independent", "color": "independent"}}
}
